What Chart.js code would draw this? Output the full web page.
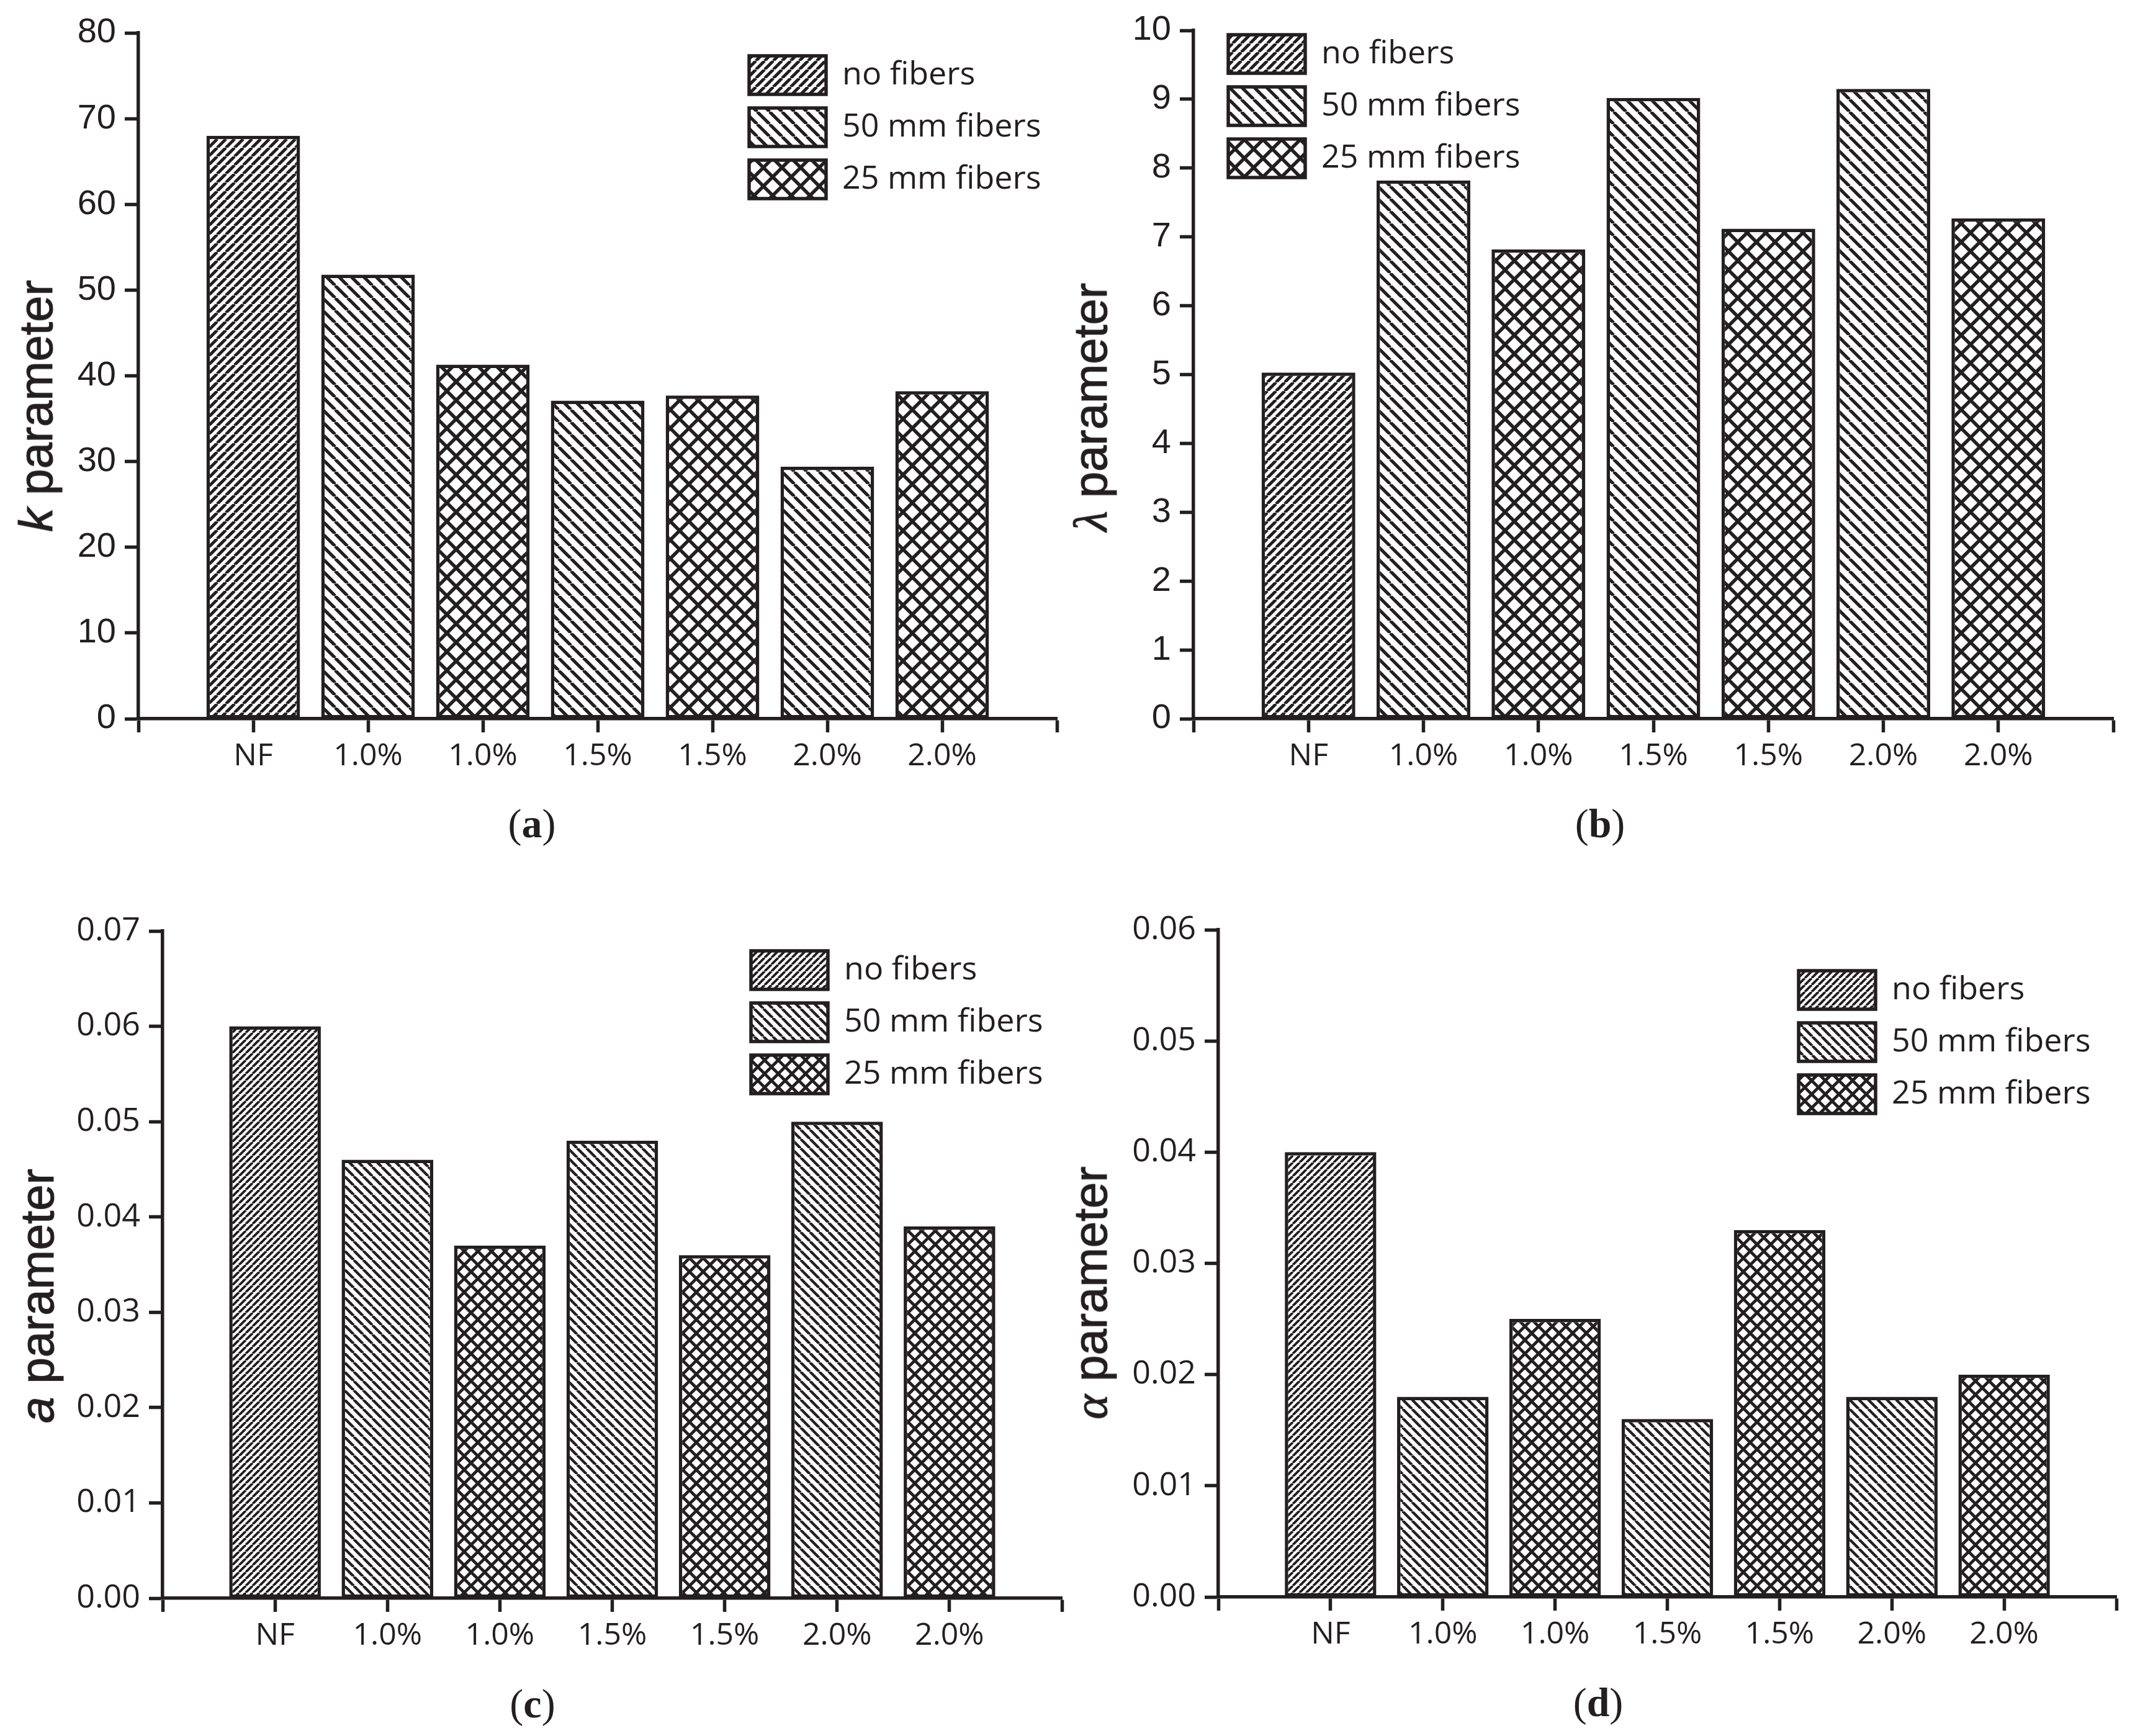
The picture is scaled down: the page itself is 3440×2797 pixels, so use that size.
<!DOCTYPE html>
<html>
<head>
<meta charset="utf-8">
<title>Fiber parameters</title>
<script src="https://cdn.jsdelivr.net/npm/chart.js@4.4.1/dist/chart.umd.min.js"></script>
<style>
  html, body { margin: 0; padding: 0; background: #fff; }
  body { width: 3440px; height: 2797px; position: relative; overflow: hidden; }
  canvas { position: absolute; }
  .ytitle {
    position: absolute; transform: translate(-50%, -50%) rotate(-90deg);
    font-family: "Liberation Sans", Arial, sans-serif; font-size: 76px;
    line-height: 1; white-space: nowrap; color: #231f20;
    -webkit-text-stroke: 1.2px #231f20;
  }
  .ytitle .sym { font-family: "Liberation Serif", serif; font-style: italic; }
  .cap {
    position: absolute; transform: translate(-50%, -50%);
    font-family: "Liberation Serif", serif; font-size: 66px;
    line-height: 1; color: #231f20;
  }
</style>
</head>
<body>
<canvas id="chart-a" width="1720" height="1290" style="left:0px;top:0px"></canvas>
<canvas id="chart-b" width="1720" height="1290" style="left:1720px;top:0px"></canvas>
<canvas id="chart-c" width="1720" height="1300" style="left:0px;top:1400px"></canvas>
<canvas id="chart-d" width="1720" height="1300" style="left:1720px;top:1400px"></canvas>

<div class="ytitle" style="left:58px;top:654px"><i>k</i> parameter</div>
<div class="ytitle" style="left:1757px;top:656px"><span class="sym">λ</span> parameter</div>
<div class="ytitle" style="left:60px;top:2088px"><i>a</i> parameter</div>
<div class="ytitle" style="left:1757px;top:2083px"><span class="sym">α</span> parameter</div>

<div class="cap" style="left:857px;top:1327px">(<b>a</b>)</div>
<div class="cap" style="left:2578px;top:1327px">(<b>b</b>)</div>
<div class="cap" style="left:858px;top:2745px">(<b>c</b>)</div>
<div class="cap" style="left:2575px;top:2743px">(<b>d</b>)</div>

<script>
const INK = '#231f20';

const categories = ['NF', '1.0%', '1.0%', '1.5%', '1.5%', '2.0%', '2.0%'];
const fiberTypes = ['no fibers', '50 mm fibers', '25 mm fibers', '50 mm fibers', '25 mm fibers', '50 mm fibers', '25 mm fibers'];
const seriesNames = ['no fibers', '50 mm fibers', '25 mm fibers'];

const kValues = [68.0, 51.8, 41.3, 37.1, 37.7, 29.4, 38.2];
const lambdaValues = [5.03, 7.82, 6.82, 9.02, 7.12, 9.15, 7.27];
const aValues = [0.060, 0.046, 0.037, 0.048, 0.036, 0.050, 0.039];
const alphaValues = [0.040, 0.018, 0.025, 0.016, 0.033, 0.018, 0.020];

const kTicks = [0, 10, 20, 30, 40, 50, 60, 70, 80];
const lambdaTicks = [0, 1, 2, 3, 4, 5, 6, 7, 8, 9, 10];
const aTicks = [0.00, 0.01, 0.02, 0.03, 0.04, 0.05, 0.06, 0.07];
const alphaTicks = [0.00, 0.01, 0.02, 0.03, 0.04, 0.05, 0.06];

Chart.defaults.color = INK;

// hatch tile: '/' forward, '\' back, 'x' both
function hatch(size, width, dir) {
  const c = document.createElement('canvas');
  c.width = c.height = size;
  const g = c.getContext('2d');
  g.fillStyle = '#fff';
  g.fillRect(0, 0, size, size);
  g.strokeStyle = INK;
  g.lineWidth = width;
  g.beginPath();
  for (let k = -1; k <= 1; k++) {
    if (dir === '/' || dir === 'x') {
      g.moveTo(k * size, size);
      g.lineTo(k * size + size, 0);
    }
    if (dir === '\\' || dir === 'x') {
      g.moveTo(k * size, 0);
      g.lineTo(k * size + size, size);
    }
  }
  g.stroke();
  return g.createPattern(c, 'repeat');
}

const bigPatterns = [hatch(14, 5, '/'), hatch(20, 5.2, '\\'), hatch(30, 5.6, 'x')];
const smallPatterns = [hatch(11, 3.9, '/'), hatch(15, 4.4, '\\'), hatch(22, 4.8, 'x')];

// move the legend to a fixed spot inside the plot
const legendAt = {
  id: 'legendAt',
  beforeDraw(chart, args, opts) {
    const lg = chart.legend;
    const pad = lg.options.labels.padding;
    lg.left = opts.x - pad;
    lg.top = opts.y - pad;
    lg.right = chart.width;
    lg.bottom = chart.height;
  }
};

function makePanel(id, values, ticks, pats, g) {
  const datasets = seriesNames.map(function (name, s) {
    return {
      label: name,
      data: [null].concat(values.map((v, i) => fiberTypes[i] === name ? v : null), [null]),
      backgroundColor: pats[s],
      borderColor: INK,
      borderWidth: 5.5,
      borderSkipped: false,
      categoryPercentage: 1,
      barPercentage: 0.815
    };
  });

  new Chart(document.getElementById(id), {
    type: 'bar',
    data: { labels: [''].concat(categories, ['']), datasets: datasets },
    plugins: [legendAt],
    options: {
      responsive: false,
      animation: false,
      devicePixelRatio: 1,
      layout: { padding: { left: 0, top: g.top, right: g.right, bottom: g.bottom } },
      plugins: {
        tooltip: { enabled: false },
        legend: {
          position: 'chartArea',
          align: 'start',
          labels: {
            boxWidth: 124, boxHeight: 62, padding: 22,
            font: { family: '"Open Sans"', size: 52 },
            color: INK
          }
        },
        legendAt: { x: g.legendX, y: g.legendY }
      },
      scales: {
        x: {
          stacked: true,
          offset: false,
          afterFit: (scale) => { scale.height = 110; },
          grid: { offset: false, drawOnChartArea: false, drawTicks: true, tickLength: 22, tickWidth: 5.5, tickColor: INK, color: INK },
          border: { display: true, color: INK, width: 5.5 },
          ticks: { autoSkip: false, maxRotation: 0, minRotation: 0, padding: 9, color: INK, font: { family: '"Open Sans"', size: 50 } }
        },
        y: {
          stacked: true,
          min: ticks[0],
          max: ticks[ticks.length - 1],
          afterFit: (scale) => { scale.width = g.left; },
          grid: { drawOnChartArea: false, drawTicks: true, tickLength: 22, tickWidth: 5.5, tickColor: INK, color: INK },
          border: { display: true, color: INK, width: 5.5 },
          ticks: {
            stepSize: ticks[1] - ticks[0],
            padding: 14,
            color: INK,
            font: g.tickFont,
            callback: (v) => g.decimals ? Number(v).toFixed(g.decimals) : v
          }
        }
      }
    }
  });
}

const arialTicks = { family: '"Liberation Sans", Arial, sans-serif', size: 56 };
const myriadTicks = { family: '"Open Sans"', size: 52 };

makePanel('chart-a', kValues, kTicks, bigPatterns,
  { left: 223, top: 53, right: 17, bottom: 22, legendX: 1207, legendY: 90, tickFont: arialTicks, decimals: 0 });
makePanel('chart-b', lambdaValues, lambdaTicks, bigPatterns,
  { left: 203, top: 49, right: 35, bottom: 22, legendX: 259, legendY: 56, tickFont: arialTicks, decimals: 0 });
makePanel('chart-c', aValues, aTicks, smallPatterns,
  { left: 262, top: 100, right: 2, bottom: 15, legendX: 1210, legendY: 132, tickFont: myriadTicks, decimals: 2 });
makePanel('chart-d', alphaValues, alphaTicks, smallPatterns,
  { left: 243, top: 98, right: 30, bottom: 17, legendX: 1178, legendY: 164, tickFont: myriadTicks, decimals: 2 });
</script>
</body>
</html>
